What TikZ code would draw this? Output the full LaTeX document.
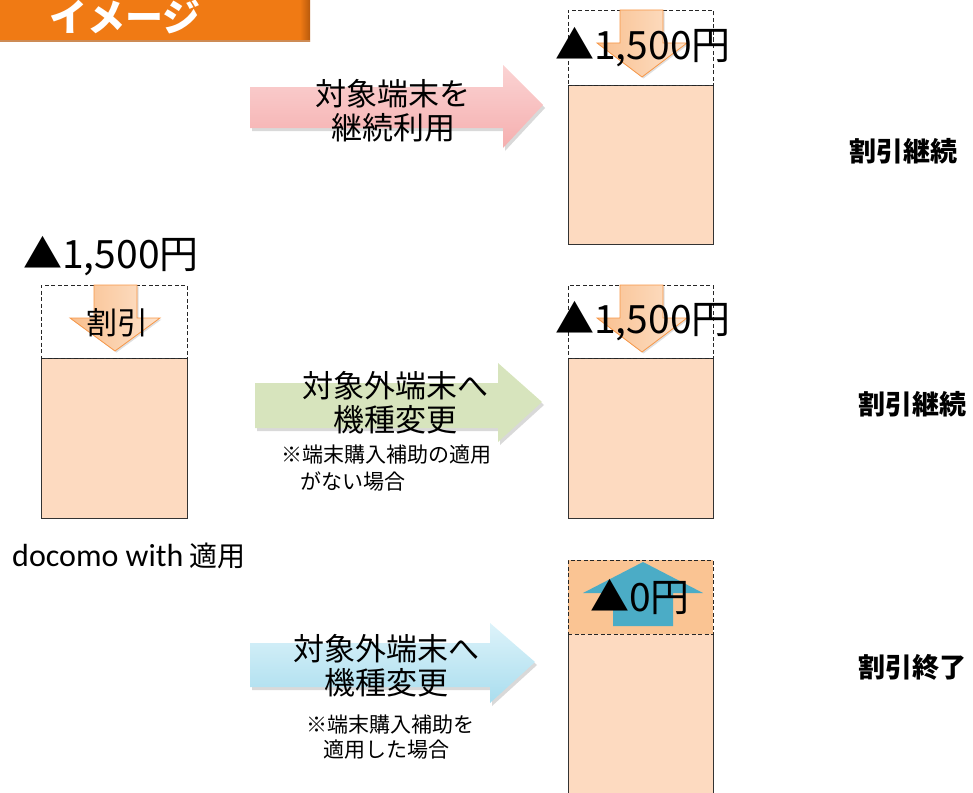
\documentclass[tikz,border=0pt]{standalone}
\usepackage{fontspec}
\setmainfont{Noto Sans CJK JP}
\newfontfamily\latinfont{Carlito}
\usetikzlibrary{shadows}
\definecolor{banner}{HTML}{F07A14}
\definecolor{bannerdark}{HTML}{B85A0C}
\definecolor{peach}{HTML}{FDDAC0}
\definecolor{peachdark}{HTML}{FAC493}
\definecolor{arrorange}{HTML}{F79646}
\definecolor{arrlight}{HTML}{FDE3CC}
\definecolor{arrmid}{HTML}{F9BF8E}
\definecolor{upblue}{HTML}{4BACC6}
\definecolor{pinkA}{HTML}{FBD3D3}
\definecolor{pinkB}{HTML}{F5AFAF}
\definecolor{greenA}{HTML}{D7E4BD}
\definecolor{blueA}{HTML}{DDF3FA}
\definecolor{blueB}{HTML}{A9DDEE}
\tikzset{
  solidbox/.style={draw=black!80, line width=0.9pt, fill=peach},
  dashbox/.style={draw=black!85, line width=0.9pt, dash pattern=on 4pt off 2.5pt},
  downarr/.style={draw=arrorange, line width=0.8pt, left color=arrmid, right color=arrlight, drop shadow={opacity=0.25, shadow xshift=1.5pt, shadow yshift=-1.5pt}},
  bigarrshadow/.style={drop shadow={opacity=0.3, shadow xshift=2pt, shadow yshift=-3pt}},
  amount/.style={font=\fontsize{39}{42}\selectfont, inner sep=0pt},
  arrtext/.style={font=\fontsize{31}{34}\selectfont, align=center, inner sep=0pt},
  notetext/.style={font=\fontsize{21}{25}\selectfont, align=left, inner sep=0pt, anchor=west},
  result/.style={font=\fontsize{27}{30}\selectfont\bfseries, inner sep=0pt},
}
\begin{document}
\begin{tikzpicture}[x=1pt,y=-1pt]
\path[use as bounding box] (0,0) rectangle (973,792);
\clip (0,0) rectangle (973,792);

% banner
\fill[banner] (-2,-2) rectangle (310,42);
\shade[left color=banner, right color=bannerdark] (300,-2) rectangle (310,42);
\fill[bannerdark!70] (-2,40) rectangle (310,42);
\node[font=\fontsize{38}{40}\selectfont\bfseries, text=white, inner sep=0pt] (title) at (125,17) {イメージ};

% left box
\node[solidbox, minimum width=146pt, minimum height=160pt, inner sep=0pt] (leftbody) at (114,438) {};
\node[dashbox, minimum width=146pt, minimum height=73pt, inner sep=0pt] (lefttop) at (114,321.5) {};
\path[downarr] (94,285) -- (137,285) -- (137,318) -- (160,318) -- (115,351) -- (70,318) -- (94,318) -- cycle;
\node[font=\fontsize{31}{33}\selectfont, inner sep=0pt] (waribiki) at (117,323) {割引};
\node[amount] (leftamount) at (111,256) {▲1,500円};
\node[anchor=west, inner sep=0pt, font=\fontsize{28}{30}\selectfont] (docomo) at (12,556) {{\latinfont\fontsize{32}{34}\selectfont docomo with} 適用};

% right top box
\node[solidbox, minimum width=145pt, minimum height=159pt, inner sep=0pt] (rtbody) at (640.5,164.5) {};
\node[dashbox, minimum width=145pt, minimum height=75pt, inner sep=0pt] (rttop) at (640.5,47.5) {};
\path[downarr] (620,10) -- (663,10) -- (663,43) -- (687,43) -- (642,77) -- (597,43) -- (620,43) -- cycle;
\node[amount] (rtamount) at (643,47) {▲1,500円};

% right middle box
\node[solidbox, minimum width=145pt, minimum height=160pt, inner sep=0pt] (rmbody) at (640.5,438) {};
\node[dashbox, minimum width=145pt, minimum height=73pt, inner sep=0pt] (rmtop) at (640.5,321.5) {};
\path[downarr] (620,285) -- (663,285) -- (663,318) -- (687,318) -- (642,352) -- (597,318) -- (620,318) -- cycle;
\node[amount] (rmamount) at (643,321) {▲1,500円};

% right bottom box
\node[solidbox, minimum width=145pt, minimum height=180pt, inner sep=0pt] (rbbody) at (640.5,723) {};
\node[dashbox, fill=peachdark, minimum width=145pt, minimum height=74pt, inner sep=0pt] (rbtop) at (640.5,597) {};
\fill[upblue] (643,562) -- (703,593) -- (673,593) -- (673,626) -- (613,626) -- (613,593) -- (583,593) -- cycle;
\node[amount] (rbamount) at (640,597) {▲0円};

% big arrows
\path[bigarrshadow, top color=pinkA, bottom color=pinkB] (250,87) -- (503,87) -- (503,65) -- (543,105) -- (503,148) -- (503,128) -- (250,128) -- cycle;
\node[arrtext] (pinktext) at (393,111) {対象端末を\\継続利用};

\path[bigarrshadow, fill=greenA] (255,383) -- (498,383) -- (498,363) -- (542,402) -- (498,442) -- (498,428) -- (255,428) -- cycle;
\node[arrtext] (greentext) at (395,403) {対象外端末へ\\機種変更};
\node[notetext] (greennote1) at (281,455) {※端末購入補助の適用};
\node[notetext] (greennote2) at (300,481) {がない場合};

\path[bigarrshadow, top color=blueA, bottom color=blueB] (250,643) -- (490,643) -- (490,623) -- (535,662) -- (490,703) -- (490,687) -- (250,687) -- cycle;
\node[arrtext] (bluetext) at (386,666) {対象外端末へ\\機種変更};
\node[notetext] (bluenote1) at (306,725) {※端末購入補助を};
\node[notetext] (bluenote2) at (323,750) {適用した場合};

% results
\node[result] (res1) at (903,151) {割引継続};
\node[result] (res2) at (912,404) {割引継続};
\node[result] (res3) at (912,667) {割引終了};
\end{tikzpicture}
\end{document}
